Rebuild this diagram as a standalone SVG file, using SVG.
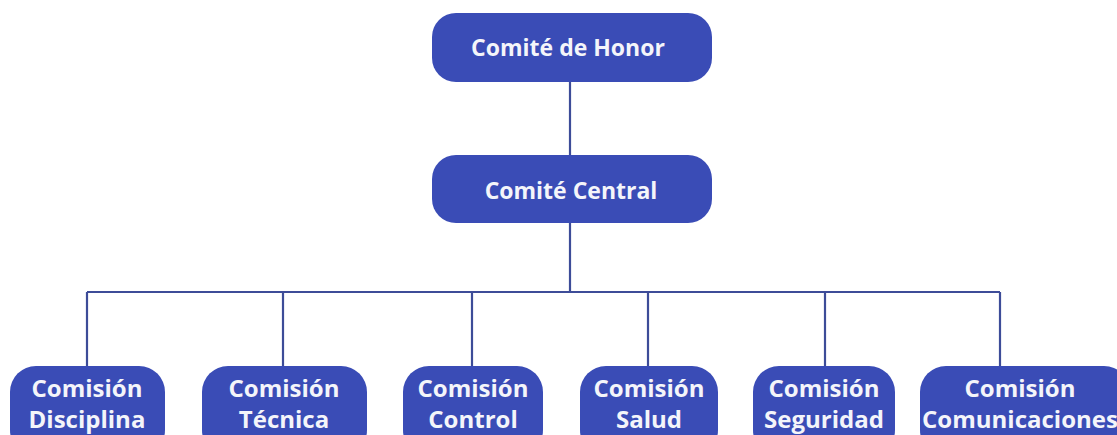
<svg xmlns="http://www.w3.org/2000/svg" width="1117" height="435" viewBox="0 0 1117 435">
<style>
.box{fill:#3A4CB6;}
.t{font-family:"Open Sans","Noto Sans","Liberation Sans",sans-serif;font-weight:bold;fill:#F4F5FA;text-anchor:middle;}
.top{font-size:23px;}
.bot{font-size:24px;}
.con{stroke:#3D4C98;stroke-width:2.2;fill:none;}
</style>
<rect width="1117" height="435" fill="#FFFFFF"/>
<g id="connectors">
<path class="con" d="M570 82 V155 M570 223 V292 M87 292 H1000 M87 292 V366 M283 292 V366 M472 292 V366 M648 292 V366 M825 292 V366 M1000 292 V366"/>
</g>
<g id="honor"><rect class="box" x="432" y="13" width="280" height="69" rx="24"/><text class="t top" x="568" y="56">Comité de Honor</text></g>
<g id="central"><rect class="box" x="432" y="155" width="280" height="68" rx="24"/><text class="t top" x="571" y="199">Comité Central</text></g>
<g id="disciplina"><rect class="box" x="10" y="366" width="155" height="90" rx="26"/><text class="t bot" x="87" y="397">Comisión</text><text class="t bot" x="87" y="428">Disciplina</text></g>
<g id="tecnica"><rect class="box" x="202" y="366" width="165" height="90" rx="26"/><text class="t bot" x="284" y="397">Comisión</text><text class="t bot" x="284" y="428">Técnica</text></g>
<g id="control"><rect class="box" x="403" y="366" width="140" height="90" rx="26"/><text class="t bot" x="473" y="397">Comisión</text><text class="t bot" x="473" y="428">Control</text></g>
<g id="salud"><rect class="box" x="580" y="366" width="138" height="90" rx="26"/><text class="t bot" x="649" y="397">Comisión</text><text class="t bot" x="649" y="428">Salud</text></g>
<g id="seguridad"><rect class="box" x="753" y="366" width="142" height="90" rx="26"/><text class="t bot" x="824" y="397">Comisión</text><text class="t bot" x="824" y="428">Seguridad</text></g>
<g id="comunicaciones"><rect class="box" x="920" y="366" width="210" height="90" rx="26"/><text class="t bot" x="1020" y="397">Comisión</text><text class="t bot" x="1020" y="428">Comunicaciones</text></g>
</svg>
